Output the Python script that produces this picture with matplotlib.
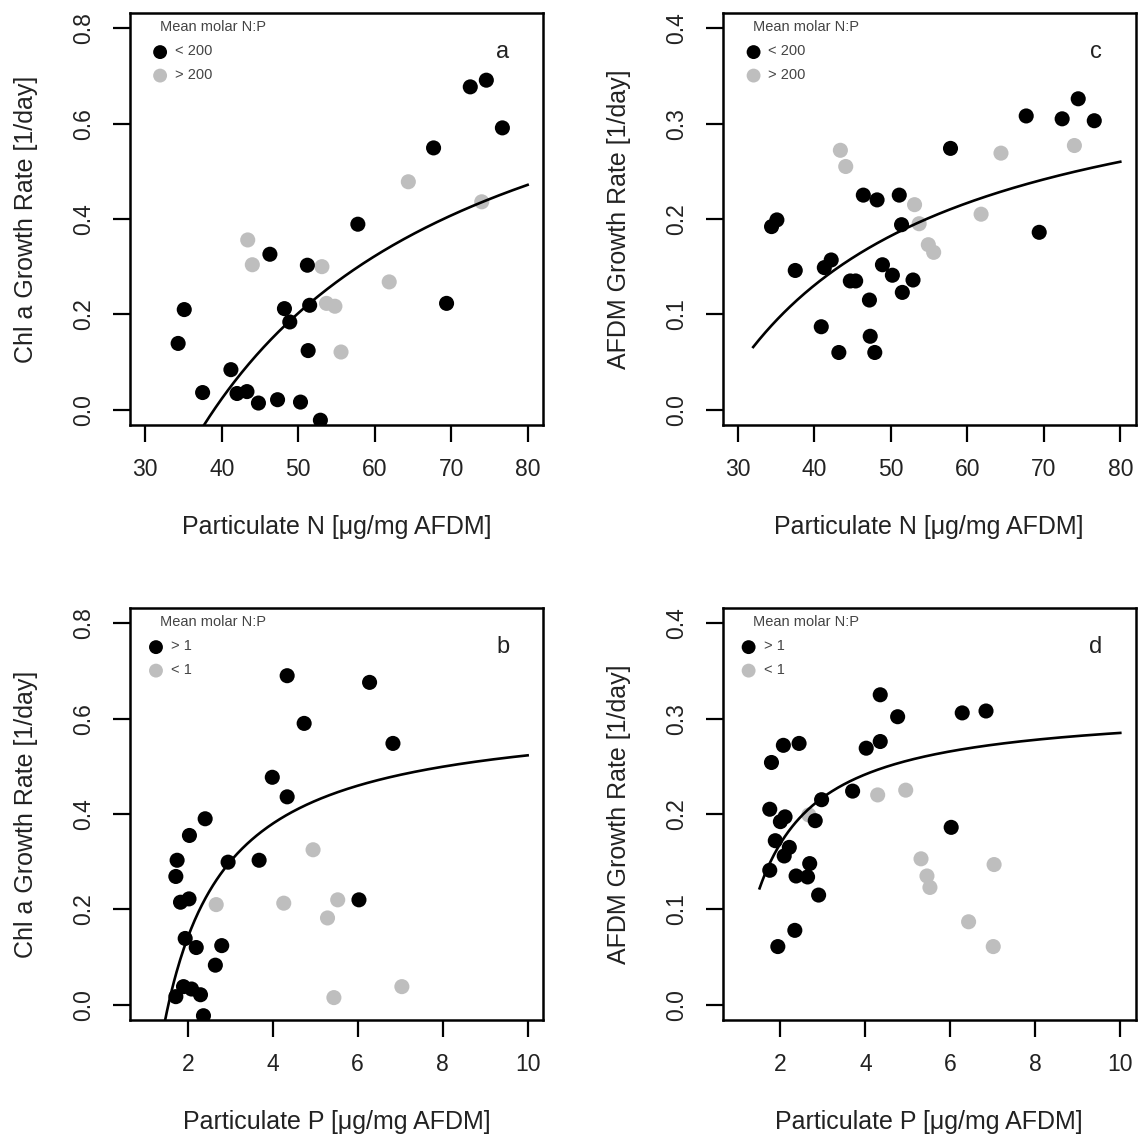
import numpy as np
import matplotlib.pyplot as plt

plt.rcParams['font.family'] = ['Liberation Sans', 'DejaVu Sans']

GREY = '#bebebe'

# panel a: Chl a growth vs particulate N
a_black_x = [34.3, 35.1, 37.5, 41.2, 42.0, 43.3, 44.8, 46.3, 47.3, 48.2, 48.9,
             50.3, 51.2, 51.5, 51.3, 52.9, 57.8, 67.7, 69.4, 72.5, 74.6, 76.7]
a_black_y = [0.139, 0.210, 0.036, 0.084, 0.034, 0.038, 0.014, 0.326, 0.021, 0.212, 0.184,
             0.016, 0.303, 0.219, 0.124, -0.022, 0.389, 0.549, 0.223, 0.677, 0.691, 0.591]
a_grey_x = [43.4, 44.0, 53.1, 53.7, 54.8, 55.6, 61.9, 64.4, 74.0]
a_grey_y = [0.356, 0.304, 0.300, 0.223, 0.217, 0.121, 0.268, 0.478, 0.436]

# panel c: AFDM growth vs particulate N
c_black_x = [34.4, 35.1, 37.5, 40.9, 41.3, 42.2, 43.2, 44.7, 45.4, 46.4, 47.2, 47.3, 47.9,
             48.2, 48.9, 50.2, 51.1, 51.4, 51.5, 52.9, 57.8, 67.7, 69.4, 72.4, 74.5, 76.6]
c_black_y = [0.192, 0.199, 0.146, 0.087, 0.149, 0.157, 0.060, 0.135, 0.135, 0.225, 0.115, 0.077, 0.060,
             0.220, 0.152, 0.141, 0.225, 0.194, 0.123, 0.136, 0.274, 0.308, 0.186, 0.305, 0.326, 0.303]
c_grey_x = [43.4, 44.1, 53.1, 53.7, 54.9, 55.6, 61.8, 64.4, 74.0]
c_grey_y = [0.272, 0.255, 0.215, 0.195, 0.173, 0.165, 0.205, 0.269, 0.277]

# panel b: Chl a growth vs particulate P
b_black_x = [1.75, 1.72, 1.83, 2.03, 2.04, 1.94, 2.20, 1.72, 1.90, 2.09, 2.30, 2.37,
             2.41, 2.65, 2.80, 2.95, 3.68, 3.99, 4.34, 4.34, 4.74, 6.03, 6.28, 6.83]
b_black_y = [0.303, 0.269, 0.215, 0.222, 0.355, 0.139, 0.120, 0.017, 0.038, 0.033, 0.021, -0.023,
             0.390, 0.083, 0.124, 0.299, 0.303, 0.477, 0.436, 0.690, 0.590, 0.220, 0.676, 0.548]
b_grey_x = [2.67, 4.26, 4.95, 5.29, 5.53, 5.44, 7.04]
b_grey_y = [0.210, 0.213, 0.325, 0.182, 0.220, 0.015, 0.038]

# panel d: AFDM growth vs particulate P
d_black_x = [1.79, 2.07, 2.44, 1.75, 2.00, 2.11, 1.88, 2.21, 2.09, 1.75, 2.37, 2.64, 2.69,
             2.82, 2.90, 2.97, 2.34, 1.94, 3.70, 4.02, 4.35, 4.35, 4.76, 6.02, 6.28, 6.84]
d_black_y = [0.254, 0.272, 0.274, 0.205, 0.192, 0.197, 0.172, 0.165, 0.156, 0.141, 0.135, 0.134, 0.148,
             0.193, 0.115, 0.215, 0.078, 0.061, 0.224, 0.269, 0.276, 0.325, 0.302, 0.186, 0.306, 0.308]
d_grey_x = [2.67, 4.29, 4.95, 5.31, 5.45, 5.52, 7.03, 6.43, 7.01]
d_grey_y = [0.199, 0.220, 0.225, 0.153, 0.135, 0.123, 0.147, 0.087, 0.061]

# Droop fits: mu = mu_inf * (1 - Q0 / Q), drawn over [q_from, q_to]
fit_a = dict(mu_inf=0.92, q0=39.0, q_from=32.0, q_to=80.0)
fit_c = dict(mu_inf=0.3895, q0=26.6, q_from=32.0, q_to=80.0)
fit_b = dict(mu_inf=0.6185, q0=1.544, q_from=1.45, q_to=10.0)
fit_d = dict(mu_inf=0.314, q0=0.923, q_from=1.51, q_to=10.0)

n_labels = ['< 200', '> 200']
p_labels = ['> 1', '< 1']
x_n_label = 'Particulate N [\u03bcg/mg AFDM]'
x_p_label = 'Particulate P [\u03bcg/mg AFDM]'
chl_label = 'Chl a Growth Rate [1/day]'
afdm_label = 'AFDM Growth Rate [1/day]'


def droop(fit):
    q = np.linspace(fit['q_from'], fit['q_to'], 300)
    return q, fit['mu_inf'] * (1 - fit['q0'] / q)


def panel(ax, bx, by, gx, gy, fit, letter, legend, xlab, ylab,
          xticks, yticks, xlim, ylim, dot_x, lab_x):
    ax.scatter(gx, gy, s=118, color=GREY, edgecolors='none', zorder=2)
    ax.scatter(bx, by, s=118, color='black', edgecolors='none', zorder=3)
    q, mu = droop(fit)
    ax.plot(q, mu, color='black', lw=1.9, zorder=4)

    ax.set_xlim(*xlim)
    ax.set_ylim(*ylim)
    ax.set_xticks(xticks)
    ax.set_yticks(yticks)
    ax.set_xticklabels([f'{t:g}' for t in xticks])
    ax.set_yticklabels([f'{t:.1f}' for t in yticks])
    ax.tick_params(direction='out', length=12, width=1.6, labelsize=16.5,
                   color='black', labelcolor='#222222')
    ax.tick_params(axis='x', pad=12)
    ax.tick_params(axis='y', pad=13, labelrotation=90)
    for lab in ax.get_yticklabels():
        lab.set_va('center')
    for sp in ax.spines.values():
        sp.set_linewidth(1.8)

    ax.set_xlabel(xlab, fontsize=18, va='center', color='#222222')
    ax.set_ylabel(ylab, fontsize=18, va='center', color='#222222')
    ax.xaxis.set_label_coords(0.5, -0.248)
    ax.yaxis.set_label_coords(-0.252, 0.5)

    # small legend in the top-left corner
    ax.text(0.073, 0.966, 'Mean molar N:P', transform=ax.transAxes,
            fontsize=10.5, color='#444444', ha='left', va='center')
    ax.scatter([dot_x], [0.905], s=100, color='black', edgecolors='none',
               transform=ax.transAxes, clip_on=False)
    ax.scatter([dot_x], [0.848], s=100, color=GREY, edgecolors='none',
               transform=ax.transAxes, clip_on=False)
    ax.text(lab_x, 0.907, legend[0], transform=ax.transAxes,
            fontsize=10.5, color='#444444', ha='left', va='center')
    ax.text(lab_x, 0.850, legend[1], transform=ax.transAxes,
            fontsize=10.5, color='#444444', ha='left', va='center')
    ax.text(0.903, 0.905, letter, transform=ax.transAxes,
            fontsize=17, ha='center', va='center', color='#222222')


fig = plt.figure(figsize=(11.43, 11.36), dpi=100)
ax_a = fig.add_axes([0.1137, 0.6259, 0.3613, 0.3627])
ax_c = fig.add_axes([0.6322, 0.6259, 0.3613, 0.3627])
ax_b = fig.add_axes([0.1137, 0.1021, 0.3613, 0.3627])
ax_d = fig.add_axes([0.6322, 0.1021, 0.3613, 0.3627])

n_ticks = [30, 40, 50, 60, 70, 80]
p_ticks = [2, 4, 6, 8, 10]
chl_ticks = [0.0, 0.2, 0.4, 0.6, 0.8]
afdm_ticks = [0.0, 0.1, 0.2, 0.3, 0.4]

panel(ax_a, a_black_x, a_black_y, a_grey_x, a_grey_y, fit_a, 'a', n_labels,
      x_n_label, chl_label, n_ticks, chl_ticks, (28, 82), (-0.032, 0.832), 0.073, 0.11)
panel(ax_c, c_black_x, c_black_y, c_grey_x, c_grey_y, fit_c, 'c', n_labels,
      x_n_label, afdm_label, n_ticks, afdm_ticks, (28, 82), (-0.016, 0.416), 0.075, 0.11)
panel(ax_b, b_black_x, b_black_y, b_grey_x, b_grey_y, fit_b, 'b', p_labels,
      x_p_label, chl_label, p_ticks, chl_ticks, (0.64, 10.36), (-0.032, 0.832), 0.063, 0.10)
panel(ax_d, d_black_x, d_black_y, d_grey_x, d_grey_y, fit_d, 'd', p_labels,
      x_p_label, afdm_label, p_ticks, afdm_ticks, (0.64, 10.36), (-0.016, 0.416), 0.063, 0.10)

fig.savefig('out.png', dpi=100)
